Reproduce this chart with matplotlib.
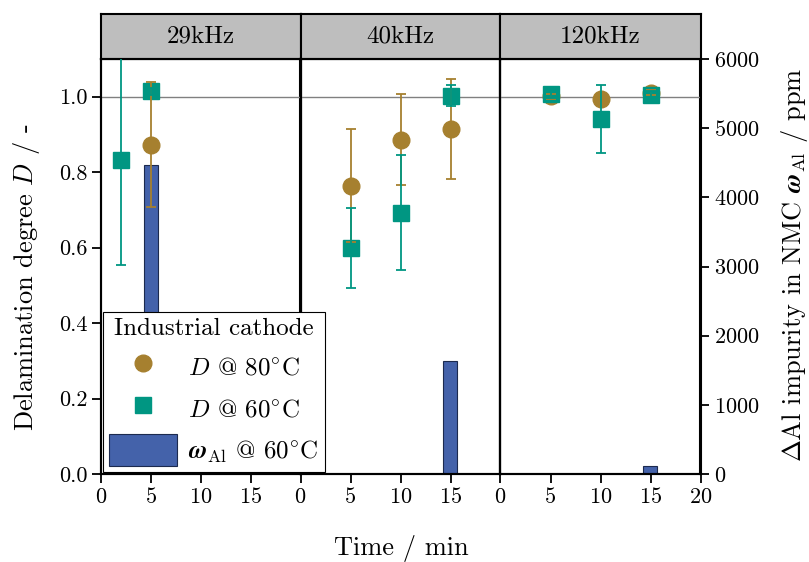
import matplotlib
matplotlib.use("Agg")
import matplotlib.pyplot as plt
from matplotlib.lines import Line2D
from matplotlib.patches import Patch

plt.rcParams['font.family'] = ['cmr10', 'DejaVu Serif']
plt.rcParams['mathtext.fontset'] = 'cm'
plt.rcParams['axes.formatter.use_mathtext'] = True

# sonication frequency per facet
FREQS = ["29kHz", "40kHz", "120kHz"]

# delamination degree D @ 80 °C (time / min, mean, error)
t80 = [[5], [5, 10, 15], [5, 10, 15]]
d80 = [[0.873], [0.764, 0.886, 0.914], [1.001, 0.994, 1.011]]
e80 = [[0.165], [0.150, 0.120, 0.133], [0.007, 0.008, 0.006]]

# delamination degree D @ 60 °C
t60 = [[2, 5], [5, 10, 15], [5, 10, 15]]
d60 = [[0.833, 1.014], [0.599, 0.693, 1.003], [1.007, 0.941, 1.004]]
e60 = [[0.280, 0.010], [0.107, 0.152, 0.027], [0.010, 0.090, 0.012]]

# Al impurity in NMC @ 60 °C / ppm
t_al = [[5], [15], [15]]
w_al = [[4470], [1640], [110]]

GOLD = "#A6802F"
TEAL = "#009682"
BLUE = "#4462AA"
BAR_EDGE = "#1C2A4E"
STRIP = "#BEBEBE"

W, H = 809, 562
fig = plt.figure(figsize=(W / 100, H / 100), dpi=100)

x0s = [101, 300.5, 500.5]
pw = 200
ax_bottom = (H - 474) / H
ax_h = (474 - 59) / H
strip_h = 45 / H

for i, freq in enumerate(FREQS):
    ax = fig.add_axes([x0s[i] / W, ax_bottom, pw / W, ax_h])
    tw = ax.twinx()
    tw.bar(t_al[i], w_al[i], width=1.4, color=BLUE, edgecolor=BAR_EDGE, linewidth=0.8)
    tw.set_ylim(0, 6000)
    ax.set_zorder(tw.get_zorder() + 1)
    ax.patch.set_visible(False)

    ax.axhline(1.0, color="#808080", lw=1.0, zorder=1)
    ax.plot(t80[i], d80[i], "o", color=GOLD, ms=12, zorder=3)
    ax.plot(t60[i], d60[i], "s", color=TEAL, ms=11, zorder=3)
    ax.errorbar(t80[i], d80[i], yerr=e80[i], fmt="none", ecolor=GOLD,
                elinewidth=1.3, capsize=3.5, capthick=1.3, zorder=4)
    ax.errorbar(t60[i], d60[i], yerr=e60[i], fmt="none", ecolor=TEAL,
                elinewidth=1.3, capsize=3.5, capthick=1.3, zorder=4)

    ax.set_xlim(0, 20)
    ax.set_ylim(0, 1.1)
    ax.set_xticks([0, 5, 10, 15, 20] if i == 2 else [0, 5, 10, 15])
    ax.set_yticks([0.0, 0.2, 0.4, 0.6, 0.8, 1.0])
    ax.yaxis.set_major_formatter(matplotlib.ticker.FormatStrFormatter("%.1f"))
    tw.set_yticks(range(0, 6001, 1000))

    for a in (ax, tw):
        for s in a.spines.values():
            s.set_linewidth(1.5)
        a.tick_params(direction="out", length=6.5, width=1.3, labelsize=16, pad=3)
    if i > 0:
        ax.tick_params(left=False, labelleft=False)
    if i < 2:
        tw.tick_params(right=False, labelright=False)

    sax = fig.add_axes([x0s[i] / W, (H - 59) / H, pw / W, strip_h])
    sax.set_facecolor(STRIP)
    sax.set_xticks([])
    sax.set_yticks([])
    for s in sax.spines.values():
        s.set_linewidth(1.5)
    sax.text(0.5, 0.5, freq, ha="center", va="center", fontsize=18,
             transform=sax.transAxes)

handles = [
    Line2D([], [], marker="o", ls="none", color=GOLD, ms=12),
    Line2D([], [], marker="s", ls="none", color=TEAL, ms=11),
    Patch(facecolor=BLUE, edgecolor=BAR_EDGE, linewidth=0.8),
]
labels = [r"$D$ @ 80$^{\circ}$C", r"$D$ @ 60$^{\circ}$C",
          r"$\boldsymbol{\omega}_{\rm Al}$ @ 60$^{\circ}$C"]
leg = fig.legend(handles, labels, title="Industrial cathode", loc="lower left",
                 bbox_to_anchor=(103 / W, (H - 472) / H), fontsize=18,
                 title_fontsize=18, frameon=True, fancybox=False,
                 edgecolor="black", framealpha=1, handlelength=2.7,
                 handleheight=1.55, borderpad=0.25, labelspacing=0.42,
                 handletextpad=0.45, borderaxespad=0)
leg.get_frame().set_linewidth(0.8)

fig.text(401 / W, (H - 548) / H, "Time / min", ha="center", va="center", fontsize=19)
fig.text(27 / W, (H - 277) / H, r"Delamination degree $D$ / -", ha="center",
         va="center", rotation=90, fontsize=19)
fig.text(795 / W, (H - 265) / H,
         r"$\Delta$Al impurity in NMC $\boldsymbol{\omega}_{\rm Al}$ / ppm",
         ha="center", va="center", rotation=90, fontsize=19)

fig.savefig("out.png", dpi=100)
